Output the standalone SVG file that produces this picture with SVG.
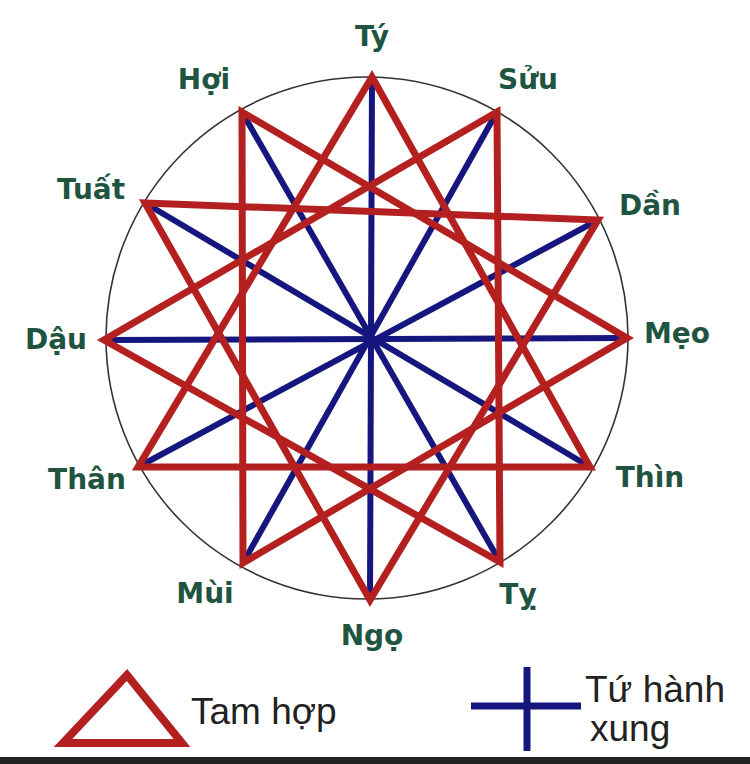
<svg xmlns="http://www.w3.org/2000/svg" width="750" height="764" viewBox="0 0 750 764">
<style>
.lbl{font-family:"DejaVu Sans","Verdana",sans-serif;font-weight:bold;font-size:28px;fill:#1f5440;text-anchor:middle}
.red{fill:none;stroke:#b3201f;stroke-width:7;stroke-linejoin:miter;stroke-miterlimit:10}
.blue{fill:none;stroke:#16167f;stroke-width:6}
.leg{font-family:"Liberation Sans","Arial",sans-serif;font-size:37px;fill:#222}
</style>
<rect width="750" height="764" fill="#ffffff"/>
<circle cx="367" cy="338" r="261" fill="none" stroke="#333" stroke-width="1.6"/>
<g id="connectors">
<g id="tu-hanh-xung">
<line class="blue" x1="372" y1="77" x2="370" y2="600"/>
<line class="blue" x1="497" y1="112" x2="243" y2="563"/>
<line class="blue" x1="598" y1="220" x2="138" y2="467"/>
<line class="blue" x1="627" y1="338" x2="104" y2="340"/>
<line class="blue" x1="590" y1="467" x2="145" y2="203"/>
<line class="blue" x1="500" y1="562" x2="242" y2="112"/>
</g>
<g id="tam-hop">
<polygon class="red" points="372,77 590,467 138,467"/>
<polygon class="red" points="497,112 500,562 104,340"/>
<polygon class="red" points="598,220 370,600 145,203"/>
<polygon class="red" points="627,338 243,563 242,112"/>
</g>
</g>
<g id="ty"><text class="lbl" x="372" y="46">Tý</text></g>
<g id="suu"><text class="lbl" x="528" y="89">Sửu</text></g>
<g id="dan"><text class="lbl" x="650" y="215">Dần</text></g>
<g id="meo"><text class="lbl" x="677" y="343">Mẹo</text></g>
<g id="thin"><text class="lbl" x="650" y="487">Thìn</text></g>
<g id="ty2"><text class="lbl" x="518" y="604">Tỵ</text></g>
<g id="ngo"><text class="lbl" x="372" y="645">Ngọ</text></g>
<g id="mui"><text class="lbl" x="205" y="603">Mùi</text></g>
<g id="than"><text class="lbl" x="87" y="489">Thân</text></g>
<g id="dau"><text class="lbl" x="56" y="349">Dậu</text></g>
<g id="tuat"><text class="lbl" x="91" y="199">Tuất</text></g>
<g id="hoi"><text class="lbl" x="204" y="89">Hợi</text></g>
<g id="legend">
<polygon points="127,675 63,743 182,743" fill="none" stroke="#b3201f" stroke-width="8" stroke-linejoin="miter"/>
<text class="leg" x="191" y="724">Tam hợp</text>
<line x1="471" y1="706" x2="581" y2="706" stroke="#16167f" stroke-width="7"/>
<line x1="527" y1="667" x2="527" y2="751" stroke="#16167f" stroke-width="7"/>
<text class="leg" x="585" y="702">Tứ hành</text>
<text class="leg" x="590" y="741">xung</text>
</g>
<rect x="0" y="757" width="750" height="7" fill="#222"/>
</svg>
